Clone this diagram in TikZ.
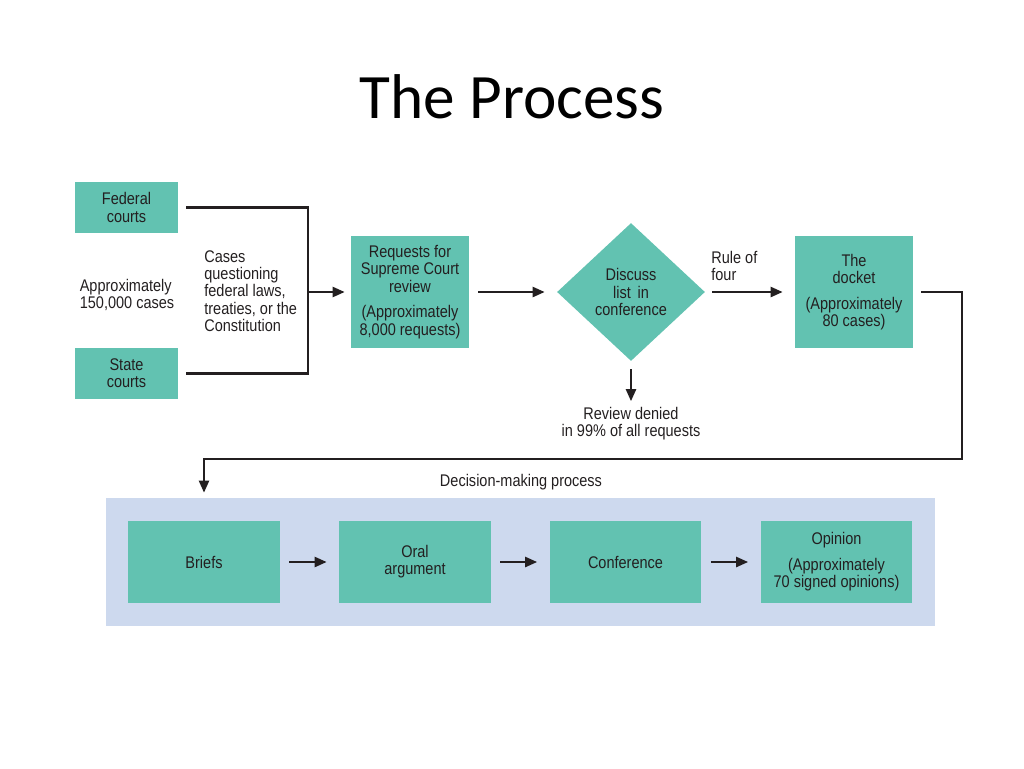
\documentclass[tikz,border=0pt]{standalone}
\usepackage{fontspec}
\setmainfont{Liberation Sans}[FakeStretch=0.86]
\newfontfamily\titlefont{Carlito}
\usepackage{tikz}
\usetikzlibrary{arrows.meta,shapes.geometric}
\definecolor{teal}{RGB}{98,194,177}
\definecolor{band}{RGB}{205,217,238}
\definecolor{ink}{RGB}{35,31,32}

\tikzset{
	box/.style={fill=teal,draw=none,inner sep=0pt,align=center,text=ink,font=\fontsize{9.6}{9.8}\selectfont},
	lbl/.style={inner sep=0pt,text=ink,font=\fontsize{9.6}{9.8}\selectfont},
	line/.style={draw=ink,line width=1.3pt},
	arr/.style={line,-{Triangle[length=0.24cm,width=0.2cm]}}
}

\begin{document}
\begin{tikzpicture}[x=0.02cm,y=-0.02cm]
					\useasboundingbox (0,0) rectangle (1024,768);
					\node (title) at (512,97) {\titlefont\fontsize{36}{40}\selectfont The Process};

					\coordinate (join) at (308,292);
					\coordinate (turn) at (962,459);

					\node (fed) at (126.5,207.5) [box,minimum width=2.06cm,minimum height=1.02cm] {Federal\\courts};
					\node (state) at (126.5,373.5) [box,minimum width=2.06cm,minimum height=1.02cm] {State\\courts};
					\node (approx) at (127,295) [lbl,align=left] {Approximately\\150,000 cases};
					\node (cases) at (204,291) [lbl,align=left,anchor=west] {Cases\\questioning\\federal laws,\\treaties, or the\\Constitution};

					\node (req) at (410,292) [box,minimum width=2.36cm,minimum height=2.26cm] {Requests for\\Supreme Court\\review\\[0.17cm](Approximately\\8,000 requests)};
					\node (disc) at (631,292) [box,shape=diamond,minimum width=2.96cm,minimum height=2.76cm] {Discuss\\list\, in\\conference};
					\node (denied) at (631,424) [lbl,align=center] {Review denied\\in 99\% of all requests};
					\node (rule) at (711,266) [lbl,align=left,anchor=west] {Rule of\\four};
					\node (dock) at (854,292) [box,minimum width=2.36cm,minimum height=2.24cm] {The\\docket\\[0.17cm](Approximately\\80 cases)};

					\node (dmp) at (521,482) [lbl] {Decision-making process};
					\fill[band] (106,498) rectangle (935,626);

					\node (brief) at (204,562) [box,minimum width=3.04cm,minimum height=1.64cm] {Briefs};
					\node (oral) at (415,562) [box,minimum width=3.04cm,minimum height=1.64cm] {Oral\\argument};
					\node (conf) at (625.5,562) [box,minimum width=3.04cm,minimum height=1.64cm] {Conference};
					\node (opin) at (836.5,562) [box,minimum width=3.04cm,minimum height=1.64cm] {Opinion\\[0.17cm](Approximately\\70 signed opinions)};

					\draw[line] ([xshift=0.16cm]fed.east) -| (join) |- ([xshift=0.16cm]state.east);
					\draw[arr,shorten >=0.12cm] (join) -- (req.west);
					\draw[arr,shorten <=0.18cm,shorten >=0.24cm] (req.east) -- (disc.west);
					\draw[arr,shorten <=0.14cm,shorten >=0.24cm] (disc.east) -- (dock.west);
					\draw[arr,shorten <=0.16cm,shorten >=0.12cm] (disc.south) -- (denied.north);
					\draw[arr,shorten >=0.56cm] ([xshift=0.16cm]dock.east) -| (turn) -| (brief.north);

					\draw[arr,shorten <=0.18cm,shorten >=0.24cm] (brief.east) -- (oral.west);
					\draw[arr,shorten <=0.18cm,shorten >=0.24cm] (oral.east) -- (conf.west);
					\draw[arr,shorten <=0.18cm,shorten >=0.24cm] (conf.east) -- (opin.west);
				\end{tikzpicture}
\end{document}
